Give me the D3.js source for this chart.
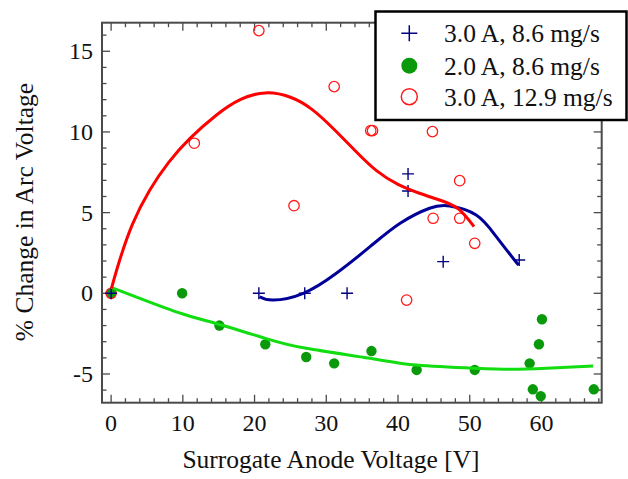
<!DOCTYPE html>
<html><head><meta charset="utf-8">
<script src="https://cdn.jsdelivr.net/npm/d3@7"></script>
<style>body{margin:0;background:#fff}svg{display:block}text{font-family:"Liberation Serif","Times New Roman",serif;fill:#111}</style>
</head><body><svg id="c" width="628" height="479"></svg>
<script>
// Series names
const seriesNames = ["3.0 A, 8.6 mg/s", "2.0 A, 8.6 mg/s", "3.0 A, 12.9 mg/s"];
// Blue plus points (3.0 A, 8.6 mg/s)
const blueX = [0, 20.6, 27.0, 32.9, 41.4, 41.4, 46.3, 56.9];
const blueY = [0, 0, 0, 0, 7.4, 6.34, 1.96, 2.06];
// Green dots (2.0 A, 8.6 mg/s)
const greenX = [0, 9.9, 15.1, 21.5, 27.2, 31.1, 36.3, 42.6, 50.7, 58.35, 58.8, 59.65, 59.9, 60.07, 67.3];
const greenY = [0, 0, -2.0, -3.16, -3.95, -4.34, -3.58, -4.75, -4.75, -4.34, -5.95, -3.16, -6.37, -1.61, -5.95];
// Red circles (3.0 A, 12.9 mg/s)
const redX = [0, 11.6, 20.6, 25.5, 31.1, 36.2, 36.45, 41.2, 44.8, 44.9, 48.6, 48.6, 50.7];
const redY = [0, 9.3, 16.28, 5.43, 12.81, 10.08, 10.08, -0.42, 10.02, 4.65, 6.98, 4.65, 3.1];
// Fit curves
const redFitX = [0.05, 1.2, 3, 5.4, 8, 11, 14.7, 18, 21.5, 25, 28, 31, 34, 37, 40, 43, 46, 48.5, 50.6];
const redFitY = [0.31, 2.06, 4.3, 6.4, 8.1, 9.6, 11.05, 12.0, 12.42, 12.15, 11.4, 10.2, 8.85, 7.6, 6.75, 6.2, 5.75, 5.2, 4.13];
const blueFitX = [20.7, 22.6, 26.8, 31.4, 36.1, 40.3, 44.4, 47.2, 50.9, 53.7, 56.8];
const blueFitY = [-0.21, -0.42, 0, 1.24, 2.89, 4.34, 5.27, 5.41, 4.85, 3.51, 1.75];
const greenFitX = [0, 4, 9.9, 15.1, 21.5, 27.2, 36.1, 42.6, 50.7, 55.6, 60.7, 67.2];
const greenFitY = [0.37, -0.31, -1.27, -1.93, -2.79, -3.41, -4.03, -4.45, -4.65, -4.71, -4.65, -4.5];
// Ticks
const xTicks = [0, 10, 20, 30, 40, 50, 60];
const yTicks = [-5, 0, 5, 10, 15];

const svg = d3.select("#c");
const L = 102, R = 601.7, T = 22.7, B = 402.7;
const x = d3.scaleLinear().domain([-1.27, 68.4]).range([L, R]);
const y = d3.scaleLinear().domain([-6.78, 16.77]).range([B, T]);

const frameCol = "#4a4a4a";
const xMinor = d3.range(0, 68.5, 2);
const yMinor = d3.range(-6, 16.9, 1);
const tg = svg.append("g").attr("stroke", frameCol).attr("stroke-width", 1.3);
xMinor.forEach(v => {
  const len = (v % 10 === 0) ? 8 : 4.5;
  tg.append("line").attr("x1", x(v)).attr("x2", x(v)).attr("y1", B).attr("y2", B - len);
  tg.append("line").attr("x1", x(v)).attr("x2", x(v)).attr("y1", T).attr("y2", T + len);
});
yMinor.forEach(v => {
  const len = (v % 5 === 0) ? 8 : 4.5;
  tg.append("line").attr("y1", y(v)).attr("y2", y(v)).attr("x1", L).attr("x2", L + len);
  tg.append("line").attr("y1", y(v)).attr("y2", y(v)).attr("x1", R).attr("x2", R - len);
});
svg.append("rect").attr("x", L).attr("y", T).attr("width", R - L).attr("height", B - T)
  .attr("fill", "none").attr("stroke", frameCol).attr("stroke-width", 2);

svg.append("g").selectAll("text").data(xTicks).join("text")
  .attr("x", d => x(d)).attr("y", 431).attr("text-anchor", "middle")
  .attr("font-size", 24).text(d => d);
svg.append("g").selectAll("text").data(yTicks).join("text")
  .attr("x", 93).attr("y", d => y(d) + 8).attr("text-anchor", "end")
  .attr("font-size", 24).text(d => d);

svg.append("text").attr("x", 331).attr("y", 468).attr("text-anchor", "middle")
  .attr("font-size", 25.5).text("Surrogate Anode Voltage [V]");
svg.append("text").attr("transform", "translate(33,212) rotate(-90)").attr("text-anchor", "middle")
  .attr("font-size", 25.5).text("% Change in Arc Voltage");

const line = d3.line().curve(d3.curveNatural).x(d => x(d[0])).y(d => y(d[1]));
const plot = svg.append("g");
function zip(a, b) { return a.map((v, i) => [v, b[i]]); }

plot.append("g").selectAll("circle").data(zip(greenX, greenY)).join("circle")
  .attr("cx", d => x(d[0])).attr("cy", d => y(d[1])).attr("r", 5.2).attr("fill", "#0a990a");
plot.append("g").selectAll("circle").data(zip(redX, redY)).join("circle")
  .attr("cx", d => x(d[0])).attr("cy", d => y(d[1])).attr("r", 5.2)
  .attr("fill", "none").attr("stroke", "#ff1a1a").attr("stroke-width", 1.3);
const plus = (cx, cy, s) => `M${cx - s},${cy}H${cx + s}M${cx},${cy - s}V${cy + s}`;
plot.append("g").selectAll("path").data(zip(blueX, blueY)).join("path")
  .attr("d", d => plus(x(d[0]), y(d[1]), 6)).attr("stroke", "#000080").attr("stroke-width", 1.4).attr("fill", "none");

plot.append("path").datum(zip(greenFitX, greenFitY)).attr("d", line)
  .attr("fill", "none").attr("stroke", "#11dd11").attr("stroke-width", 3);
plot.append("path").datum(zip(blueFitX, blueFitY)).attr("d", line)
  .attr("fill", "none").attr("stroke", "#000099").attr("stroke-width", 3);
plot.append("path").datum(zip(redFitX, redFitY)).attr("d", line)
  .attr("fill", "none").attr("stroke", "#ff0000").attr("stroke-width", 3);

const lg = svg.append("g");
lg.append("rect").attr("x", 375.5).attr("y", 11.5).attr("width", 251).attr("height", 108.5)
  .attr("fill", "#fff").attr("stroke", "#000").attr("stroke-width", 2.5);
const ly = [33.3, 65.7, 96.7];
lg.append("path").attr("d", plus(409.3, ly[0], 8)).attr("stroke", "#000080").attr("stroke-width", 1.5);
lg.append("circle").attr("cx", 409.3).attr("cy", ly[1]).attr("r", 8).attr("fill", "#0a990a");
lg.append("circle").attr("cx", 409.3).attr("cy", ly[2]).attr("r", 8).attr("fill", "none").attr("stroke", "#ff1a1a").attr("stroke-width", 1.5);
lg.selectAll("text.l").data(seriesNames).join("text").attr("class", "l")
  .attr("x", 444).attr("y", (d, i) => ly[i] + 9).attr("font-size", 25.5).text(d => d);
</script></body></html>
